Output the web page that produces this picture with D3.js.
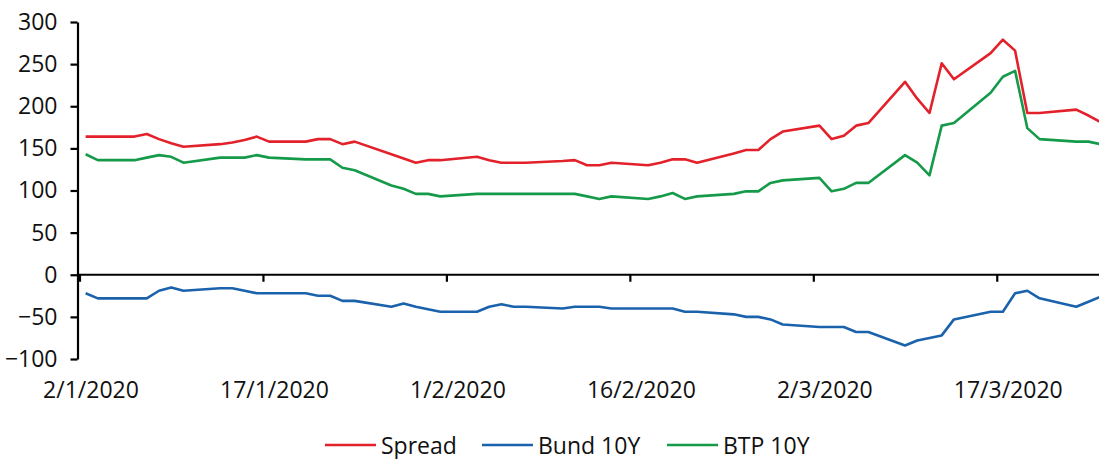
<!DOCTYPE html>
<html>
<head>
<meta charset="utf-8">
<script src="https://cdn.jsdelivr.net/npm/d3@7"></script>
<style>
  body { margin: 0; background: #fff; }
  svg { display: block; font-family: "Open Sans", sans-serif; }
  .axe text { font-size: 23px; fill: #111; font-family: "Open Sans", sans-serif; }
  .axe path, .axe line { stroke: #000; stroke-width: 2.2px; }
</style>
</head>
<body>
<svg width="1099" height="459"></svg>
<script>
// working days, 2 Jan -> 25 Mar 2020
const dates = [
  "2/1/2020","3/1/2020","6/1/2020","7/1/2020","8/1/2020","9/1/2020","10/1/2020",
  "13/1/2020","14/1/2020","15/1/2020","16/1/2020","17/1/2020",
  "20/1/2020","21/1/2020","22/1/2020","23/1/2020","24/1/2020",
  "27/1/2020","28/1/2020","29/1/2020","30/1/2020","31/1/2020",
  "3/2/2020","4/2/2020","5/2/2020","6/2/2020","7/2/2020",
  "10/2/2020","11/2/2020","12/2/2020","13/2/2020","14/2/2020",
  "17/2/2020","18/2/2020","19/2/2020","20/2/2020","21/2/2020",
  "24/2/2020","25/2/2020","26/2/2020","27/2/2020","28/2/2020",
  "2/3/2020","3/3/2020","4/3/2020","5/3/2020","6/3/2020",
  "9/3/2020","10/3/2020","11/3/2020","12/3/2020","13/3/2020",
  "16/3/2020","17/3/2020","18/3/2020","19/3/2020","20/3/2020",
  "23/3/2020","24/3/2020","25/3/2020"
];

const spread = [
  164,164,164,167,161,156,152,
  155,157,160,164,158,
  158,161,161,155,158,
  143,138,133,136,136,
  140,136,133,133,133,
  135,136,130,130,133,
  130,133,137,137,133,
  144,148,148,161,170,
  177,161,165,177,180,
  229,209,192,251,232,
  263,279,266,192,192,
  196,189,181
];

const bund = [
  -22,-28,-28,-28,-19,-15,-19,
  -16,-16,-19,-22,-22,
  -22,-25,-25,-31,-31,
  -38,-34,-38,-41,-44,
  -44,-38,-35,-38,-38,
  -40,-38,-38,-38,-40,
  -40,-40,-40,-44,-44,
  -47,-50,-50,-53,-59,
  -62,-62,-62,-68,-68,
  -84,-78,-75,-72,-53,
  -44,-44,-22,-19,-28,
  -38,-32,-26
];

const btp = [
  143,136,136,139,142,140,133,
  139,139,139,142,139,
  137,137,137,127,124,
  106,102,96,96,93,
  96,96,96,96,96,
  96,96,93,90,93,
  90,93,97,90,93,
  96,99,99,109,112,
  115,99,102,109,109,
  142,133,118,177,180,
  216,235,242,174,161,
  158,158,155
];

const tickDates = ["2/1/2020","17/1/2020","1/2/2020","16/2/2020","2/3/2020","17/3/2020"];
const yTicks = [-100,-50,0,50,100,150,200,250,300];

const noms = ["Spread","Bund 10Y","BTP 10Y"];
const couleurs = ["#e3212b","#1b62ac","#159a4a"];

const parse = d3.timeParse("%d/%m/%Y");
const fmt = d3.timeFormat("%-d/%-m/%Y");

let jours = dates.map(parse);
let series = [spread, bund, btp].map((vals,k) => ({
  nom: noms[k],
  couleur: couleurs[k],
  points: vals.map((v,i) => ({date: jours[i], valeur: v}))
}));

let x = d3.scaleTime()
  .domain([parse("2/1/2020"), parse("26/3/2020")])
  .range([79.5, 79.5 + 84*12.23]);

let y = d3.scaleLinear()
  .domain([-100, 300])
  .range([359, 22]);

let svg = d3.select("svg");

// y axis
svg.append("g")
  .attr("class","axe")
  .attr("transform","translate(77.5,0)")
  .call(d3.axisLeft(y).tickValues(yTicks).tickSize(7).tickSizeOuter(0).tickPadding(13));

// zero line with date ticks
svg.append("g")
  .attr("class","axe")
  .attr("transform",`translate(0,${y(0)})`)
  .call(d3.axisBottom(x).tickValues(tickDates.map(parse)).tickSize(7).tickSizeOuter(0).tickFormat(""))
  .select(".domain")
  .attr("d", `M77.5,0H1099`);

// date labels at the bottom
svg.append("g")
  .attr("class","axe")
  .attr("transform","translate(11,382)")
  .call(d3.axisBottom(x).tickValues(tickDates.map(parse)).tickSize(0).tickPadding(0).tickFormat(fmt))
  .call(g => g.select(".domain").remove());

// lines, point in middle of the day
let ligne = d3.line()
  .x(d => x(d3.timeHour.offset(d.date, 12)))
  .y(d => y(d.valeur));

svg.selectAll(".serie")
  .data([series[2], series[1], series[0]])
  .join("path")
  .attr("class","serie")
  .attr("d", d => ligne(d.points))
  .style("fill","none")
  .style("stroke", d => d.couleur)
  .style("stroke-width", 2.6)
  .style("stroke-linejoin","round");

// legend
let legendeX = [325, 482, 667];
let leg = svg.selectAll(".legende")
  .data(series)
  .join("g")
  .attr("class","legende")
  .attr("transform", (d,i) => `translate(${legendeX[i]},445)`);

leg.append("line")
  .attr("x2", 51)
  .style("stroke", d => d.couleur)
  .style("stroke-width", 2.6);

leg.append("text")
  .text(d => d.nom)
  .attr("x", 56)
  .attr("y", 8.5)
  .style("font-size","23px")
  .style("fill","#111");
</script>
</body>
</html>
